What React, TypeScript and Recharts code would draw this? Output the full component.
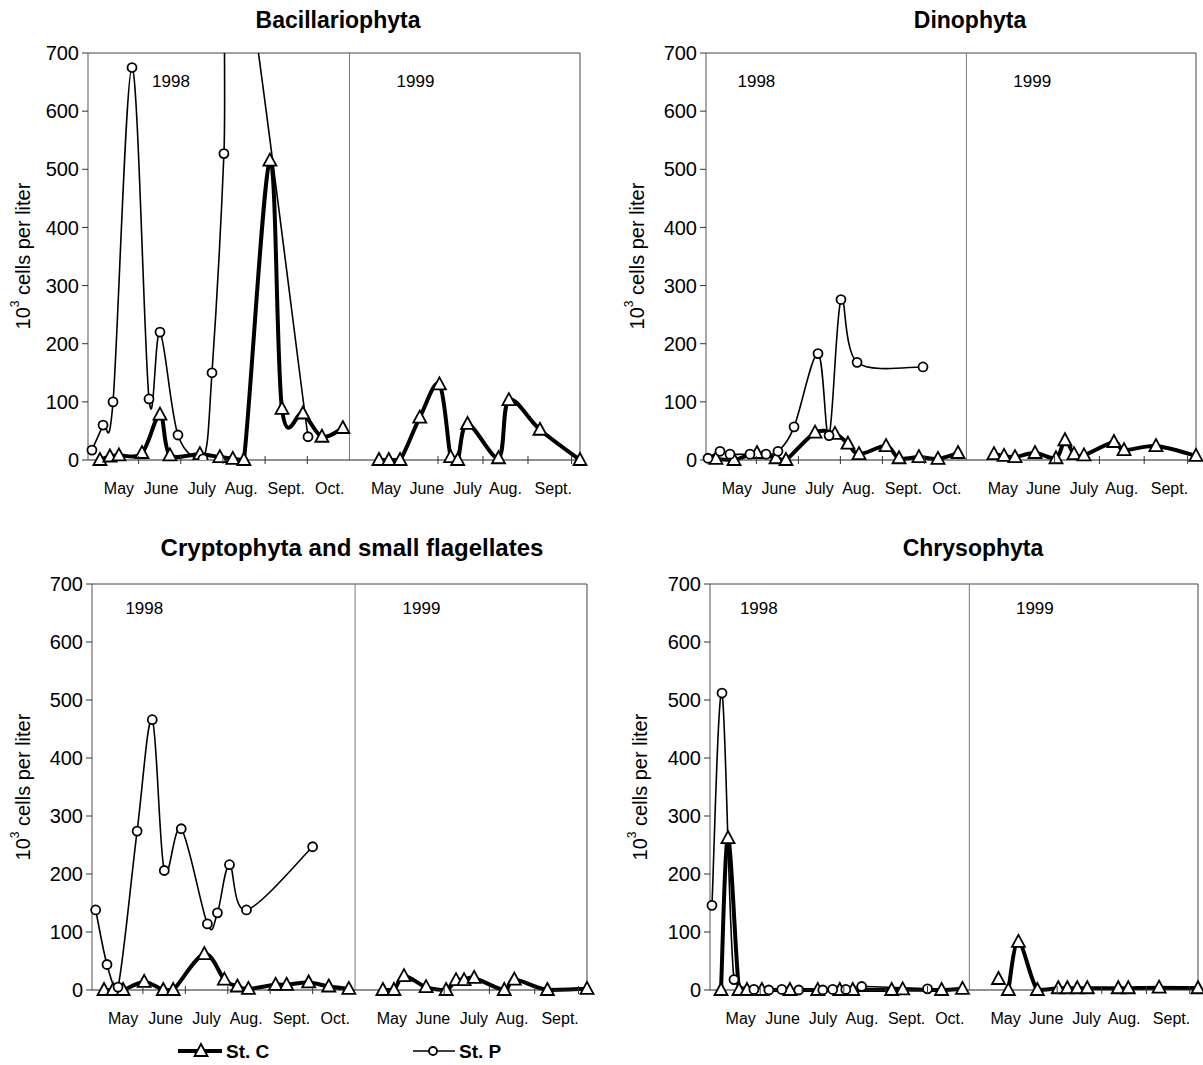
import React from 'react';
import { LineChart, Line, XAxis, YAxis, ReferenceLine, ReferenceDot } from 'recharts';

const FONT = '"Liberation Sans", Arial, Helvetica, sans-serif';

// x = days along the sampling axis: the 1998 season ends at YEAR_SPLIT, 1999 runs to X_MAX
const X_MAX = 350;
const YEAR_SPLIT = 186;
const Y_TICKS = [0, 100, 200, 300, 400, 500, 600, 700];
const MONTH_POS = [22, 52, 81, 109, 141, 172, 212, 241, 270, 297, 331];
const MONTH_NAMES = ['May', 'June', 'July', 'Aug.', 'Sept.', 'Oct.', 'May', 'June', 'July', 'Aug.', 'Sept.'];
const MONTH_MARKS = [36, 66, 96, 126, 156, 249, 281, 313, 344];

// Bacillariophyta
const bacDaysC98 = [8.5, 15.6, 22, 38.4, 51.2, 58.3, 79.6, 93.8, 103, 110.9, 129.4, 138, 152.9, 166.4, 181.3];
const bacC98 = [0, 6, 8, 12, 78, 8, 10, 5, 2, 0, 515, 88, 80, 40, 55];
const bacDaysC99 = [207, 214, 222, 236, 250, 258, 263, 270, 292, 299.4, 321.5, 350];
const bacC99 = [0, 0, 0, 73, 130, 5, 0, 62, 3, 103, 52, 0];
const bacDaysP = [2.8, 10.7, 17.8, 31.3, 43.4, 51.2, 64, 81.8, 88.2, 96.7, 102.4, 156.5];
const bacP = [17, 60, 100, 675, 105, 220, 43, 2, 150, 527, 990, 40];

// Dinophyta
const dinDaysC98 = [7.1, 20, 36.4, 50, 57.1, 77.9, 92.1, 101.4, 109.3, 128.6, 137.9, 152.1, 165.7, 180];
const dinC98 = [2, 0, 12, 3, 0, 47, 45, 28, 10, 24, 3, 5, 2, 12];
const dinDaysC99 = [205.7, 212.9, 220.7, 235, 250, 256.4, 262.9, 270, 291.4, 298.6, 321.4, 350];
const dinC99 = [10, 7, 5, 12, 3, 34, 10, 8, 31, 17, 24, 7];
const dinDaysP = [1.4, 10, 17.1, 31.4, 42.9, 51.4, 62.9, 80, 87.9, 96.4, 107.9, 155];
const dinP = [3, 15, 10, 10, 10, 15, 57, 183, 42, 276, 168, 160];

// Cryptophyta and small flagellates
const cryDaysC98 = [8.5, 14.9, 22, 36.9, 50.4, 57.4, 79.4, 93.6, 102.8, 110.6, 129.8, 137.6, 153.2, 167.4, 181.6];
const cryC98 = [0, 0, 0, 14, 0, 0, 62, 18, 6, 2, 9, 9, 13, 6, 2];
const cryDaysC99 = [205.7, 213.5, 220.6, 236.2, 250.4, 257.4, 263.1, 270.2, 291.5, 298.6, 322, 350];
const cryC99 = [0, 0, 24, 5, 0, 17, 17, 21, 0, 18, 0, 2];
const cryDaysP = [2.6, 10.6, 18.4, 31.9, 42.6, 51.1, 63.1, 81.6, 88.7, 97.2, 109.2, 156];
const cryP = [138, 44, 5, 274, 466, 206, 278, 114, 133, 216, 138, 247];

// Chrysophyta
const chrDaysC98 = [7.9, 12.9, 20.8, 26.5, 37.2, 57.3, 77.3, 93.1, 102.4, 130.3, 138.2, 166.1, 181.1];
const chrC98 = [0, 262, 0, 0, 0, 0, 0, 0, 0, 0, 1, 0, 2];
const chrDaysC99 = [206.9, 210, 214, 221.2, 234.8, 249.8, 256.3, 263.4, 270.6, 292.8, 300, 322.1, 350];
const chrC99 = [19, null, 0, 83, 0, 3, 3, 3, 3, 3, 3, 4, 3];
const chrDaysP = [1.4, 8.6, 17.2, 31.5, 42.2, 51.5, 63.7, 80.9, 88, 97.4, 108.8, 156];
const chrP = [146, 512, 18, 1, 0, 1, 0, 0, 1, 1, 6, 2];

type Pt = { day: number; v: number | null };

const toPts = (days: number[], vals: (number | null)[]): Pt[] =>
  days.map((day, i) => ({ day, v: vals[i] }));

// the two seasons are not joined by a line
const seasons = (d98: number[], v98: (number | null)[], d99: number[], v99: (number | null)[]): Pt[] => [
  ...toPts(d98, v98),
  { day: YEAR_SPLIT, v: null },
  ...toPts(d99, v99),
];

const CHART_H = 500;
const XAXIS_H = 40;
const PLOT_BOTTOM = CHART_H - XAXIS_H;

// Excel-style smoothed line (Catmull-Rom through the points); control points are kept
// above the zero line so the curve never dips under the x axis
function smoothCurve(context: any) {
  let pts: number[][] = [];
  const floor = (y: number) => Math.min(y, PLOT_BOTTOM);
  return {
    areaStart() {},
    areaEnd() {},
    lineStart() {
      pts = [];
    },
    point(x: number, y: number) {
      pts.push([+x, +y]);
    },
    lineEnd() {
      const n = pts.length;
      if (!n) return;
      context.moveTo(pts[0][0], pts[0][1]);
      for (let i = 0; i < n - 1; i++) {
        const a = pts[Math.max(i - 1, 0)];
        const b = pts[i];
        const c = pts[i + 1];
        const d = pts[Math.min(i + 2, n - 1)];
        context.bezierCurveTo(
          b[0] + (c[0] - a[0]) / 6,
          floor(b[1] + (c[1] - a[1]) / 6),
          c[0] - (d[0] - b[0]) / 6,
          floor(c[1] - (d[1] - b[1]) / 6),
          c[0],
          c[1],
        );
      }
    },
  };
}

const triPath = (cx: number, cy: number) =>
  `M${cx},${cy - 7}L${cx + 6.5},${cy + 5}L${cx - 6.5},${cy + 5}Z`;

const TriDot = (p: any) => {
  const { cx, cy, value, index } = p;
  if (cx == null || cy == null || value == null || isNaN(cy)) return <g key={`t${index}`} />;
  return <path key={`t${index}`} d={triPath(cx, cy)} fill="#fff" stroke="#000" strokeWidth={1.8} />;
};

const MonthTick = (p: any) => {
  const { x, y, payload } = p;
  const i = MONTH_POS.indexOf(payload.value);
  if (i < 0) return <line x1={x} x2={x} y1={y - 4} y2={y + 4} stroke="#333" strokeWidth={1} />;
  return (
    <text x={x} y={y + 34} textAnchor="middle" fontSize={16} fontFamily={FONT} fill="#000">
      {MONTH_NAMES[i]}
    </text>
  );
};

const YTitle = ({ cx, cy }: { cx: number; cy: number }) => (
  <text
    transform={`rotate(-90 ${cx} ${cy})`}
    x={cx}
    y={cy}
    textAnchor="middle"
    dominantBaseline="central"
    fontSize={20}
    fontFamily={FONT}
    fill="#000"
  >
    10
    <tspan dy={-8} fontSize={12}>
      3
    </tspan>
    <tspan dy={8}> cells per liter</tspan>
  </text>
);

type PanelCfg = {
  title: string;
  titleX: number;
  titleY: number;
  titleSize: number;
  left: number;
  top: number;
  width: number;
  margin: { top: number; right: number; bottom: number; left: number };
  yTitle: [number, number];
  yearY: number;
  year98X: number;
  stC: Pt[];
  stP: Pt[];
  clipP?: boolean;
};

const PANELS: PanelCfg[] = [
  {
    title: 'Bacillariophyta',
    titleX: 338,
    titleY: 20,
    titleSize: 23,
    left: 0,
    top: 0,
    width: 600,
    margin: { top: 53, right: 20, bottom: 0, left: 28 },
    yTitle: [23, 256],
    yearY: 652,
    year98X: 59,
    stC: seasons(bacDaysC98, bacC98, bacDaysC99, bacC99),
    stP: toPts(bacDaysP, bacP),
    clipP: true,
  },
  {
    title: 'Dinophyta',
    titleX: 970,
    titleY: 20,
    titleSize: 23,
    left: 600,
    top: 0,
    width: 603,
    margin: { top: 53, right: 7, bottom: 0, left: 46 },
    yTitle: [37, 256],
    yearY: 652,
    year98X: 36,
    stC: seasons(dinDaysC98, dinC98, dinDaysC99, dinC99),
    stP: toPts(dinDaysP, dinP),
  },
  {
    title: 'Cryptophyta and small flagellates',
    titleX: 352,
    titleY: 548,
    titleSize: 24,
    left: 0,
    top: 530,
    width: 600,
    margin: { top: 54, right: 13, bottom: 0, left: 32 },
    yTitle: [23, 257],
    yearY: 658,
    year98X: 37,
    stC: seasons(cryDaysC98, cryC98, cryDaysC99, cryC99),
    stP: toPts(cryDaysP, cryP),
  },
  {
    title: 'Chrysophyta',
    titleX: 973,
    titleY: 548,
    titleSize: 23,
    left: 600,
    top: 530,
    width: 603,
    margin: { top: 54, right: 5, bottom: 0, left: 50 },
    yTitle: [40, 257],
    yearY: 658,
    year98X: 35,
    stC: seasons(chrDaysC98, chrC98, chrDaysC99, chrC99),
    stP: toPts(chrDaysP, chrP),
  },
];

function Panel({ cfg }: { cfg: PanelCfg }) {
  const yearLabel = (value: string) => ({ value, position: 'center' as const, fontSize: 17, fill: '#000', fontFamily: FONT });
  return (
    <>
      <div
        style={{
          position: 'absolute',
          left: cfg.titleX,
          top: cfg.titleY,
          transform: 'translate(-50%, -50%)',
          fontFamily: FONT,
          fontWeight: 'bold',
          fontSize: cfg.titleSize,
          whiteSpace: 'nowrap',
          color: '#000',
        }}
      >
        {cfg.title}
      </div>
      <div style={{ position: 'absolute', left: cfg.left, top: cfg.top }}>
        <LineChart width={cfg.width} height={CHART_H} margin={cfg.margin}>
          <XAxis
            type="number"
            dataKey="day"
            domain={[0, X_MAX]}
            ticks={[...MONTH_POS, ...MONTH_MARKS]}
            interval={0}
            tick={MonthTick}
            tickLine={false}
            tickSize={0}
            tickMargin={0}
            axisLine={{ stroke: '#222', strokeWidth: 1 }}
            height={XAXIS_H}
          />
          <YAxis
            type="number"
            domain={[0, 700]}
            ticks={Y_TICKS}
            interval={0}
            width={60}
            tickSize={6}
            tickMargin={3}
            tickLine={{ stroke: '#333' }}
            axisLine={{ stroke: '#555' }}
            tick={{ fontSize: 20, fill: '#000', fontFamily: FONT }}
            label={{ content: () => <YTitle cx={cfg.yTitle[0]} cy={cfg.yTitle[1]} /> }}
          />
          <YAxis yAxisId="clip" hide type="number" domain={[0, 700]} allowDataOverflow />
          <ReferenceLine y={700} stroke="#444" strokeWidth={1} />
          <ReferenceLine x={X_MAX} stroke="#444" strokeWidth={1} />
          <ReferenceLine x={YEAR_SPLIT} stroke="#777" strokeWidth={1} />
          <ReferenceDot x={cfg.year98X} y={cfg.yearY} r={0} fill="none" stroke="none" label={yearLabel('1998')} />
          <ReferenceDot x={233} y={cfg.yearY} r={0} fill="none" stroke="none" label={yearLabel('1999')} />
          <Line
            data={cfg.stC}
            dataKey="v"
            type={smoothCurve as any}
            stroke="#000"
            strokeWidth={4}
            dot={TriDot}
            activeDot={false}
            isAnimationActive={false}
          />
          <Line
            yAxisId={cfg.clipP ? 'clip' : 0}
            data={cfg.stP}
            dataKey="v"
            type={smoothCurve as any}
            stroke="#000"
            strokeWidth={1.6}
            dot={{ r: 4.5, fill: '#fff', stroke: '#000', strokeWidth: 1.8 }}
            activeDot={false}
            isAnimationActive={false}
          />
        </LineChart>
      </div>
    </>
  );
}

function SeriesKey() {
  return (
    <svg
      width={420}
      height={32}
      style={{ position: 'absolute', left: 150, top: 1035 }}
      fontFamily={FONT}
    >
      <line x1={28} x2={72} y1={16} y2={16} stroke="#000" strokeWidth={4} />
      <path d={triPath(51, 16)} fill="#fff" stroke="#000" strokeWidth={1.8} />
      <text x={76} y={23} fontSize={19} fontWeight="bold" fill="#000">
        St. C
      </text>
      <line x1={263} x2={305} y1={16} y2={16} stroke="#000" strokeWidth={1.6} />
      <circle cx={283} cy={16} r={4} fill="#fff" stroke="#000" strokeWidth={1.8} />
      <text x={309} y={23} fontSize={19} fontWeight="bold" fill="#000">
        St. P
      </text>
    </svg>
  );
}

export default function App() {
  return (
    <div
      style={{
        position: 'absolute',
        left: 0,
        top: 0,
        width: 1203,
        height: 1065,
        background: '#fff',
        fontFamily: FONT,
      }}
    >
      {PANELS.map((cfg) => (
        <Panel key={cfg.title} cfg={cfg} />
      ))}
      <SeriesKey />
    </div>
  );
}
